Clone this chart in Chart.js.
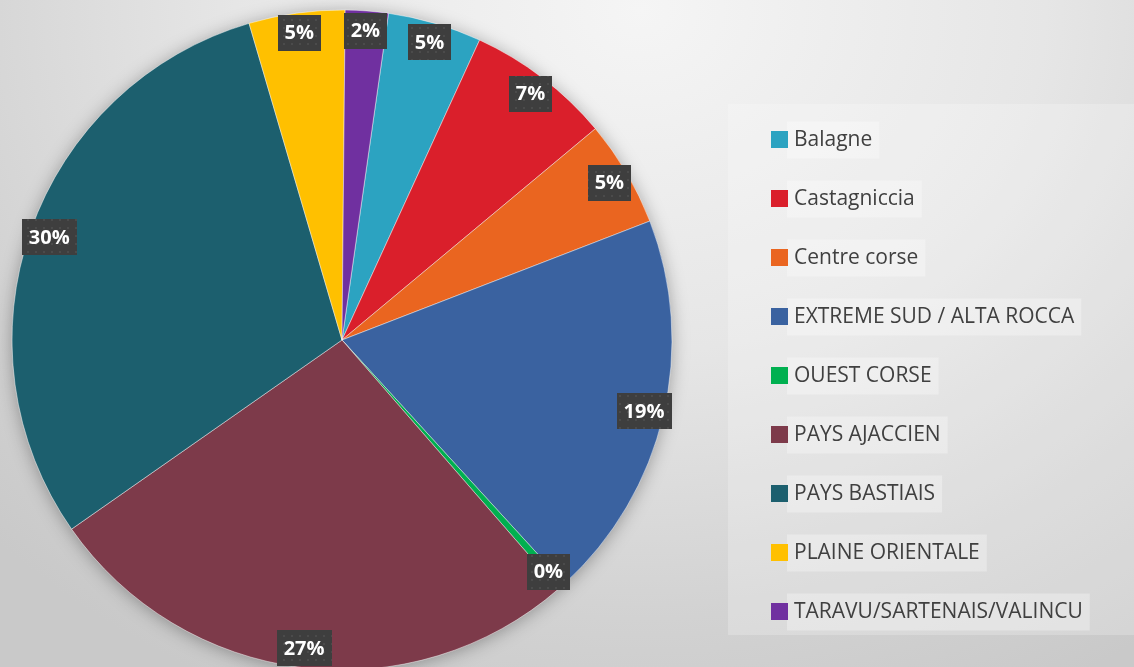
<!DOCTYPE html>
<html>
<head>
<meta charset="utf-8">
<script src="https://cdn.jsdelivr.net/npm/chart.js@4.4.1/dist/chart.umd.min.js"></script>
<style>
  html, body { margin: 0; padding: 0; width: 1134px; height: 667px; overflow: hidden; }
  body { background: radial-gradient(ellipse 900px 760px at 640px 10px, #f5f5f5 0%, #e6e6e6 45%, #d2d2d2 80%, #c9c9c9 100%); }
  #wrap { position: absolute; left: 0; top: 0; width: 1134px; height: 667px; }
</style>
</head>
<body>
<div id="wrap"><canvas id="c" width="1134" height="667"></canvas></div>
<script>
const categories = ["Balagne", "Castagniccia", "Centre corse", "EXTREME SUD / ALTA ROCCA", "OUEST CORSE", "PAYS AJACCIEN", "PAYS BASTIAIS", "PLAINE ORIENTALE", "TARAVU/SARTENAIS/VALINCU"];
const shares = [4.6, 7.1, 5.2, 19.1, 0.4, 26.7, 30.2, 4.7, 2.1];
const colors = ["#2CA3C1", "#DA1F2B", "#EA6520", "#3A62A0", "#00B050", "#7D3A4A", "#1C5F6E", "#FFC000", "#7030A0"];

// label pattern
function makePattern(ctx) {
  const p = document.createElement('canvas');
  p.width = 8; p.height = 8;
  const pc = p.getContext('2d');
  pc.fillStyle = '#3e3e3e';
  pc.fillRect(0, 0, 8, 8);
  pc.fillStyle = '#4b4b4b';
  pc.fillRect(3, 3, 2, 2);
  return ctx.createPattern(p, 'repeat');
}

const shadowPlugin = {
  id: 'pieShadow',
  beforeDatasetsDraw(chart) {
    const meta = chart.getDatasetMeta(0);
    if (!meta.data.length) return;
    const a = meta.data[0];
    const ctx = chart.ctx;
    ctx.save();
    ctx.shadowColor = 'rgba(0,0,0,0.35)';
    ctx.shadowBlur = 18;
    ctx.shadowOffsetX = 0;
    ctx.shadowOffsetY = 2;
    ctx.fillStyle = '#888';
    ctx.beginPath();
    ctx.arc(a.x, a.y, a.outerRadius - 1, 0, Math.PI * 2);
    ctx.fill();
    ctx.restore();
  }
};

const labelPlugin = {
  id: 'pctLabels',
  afterDatasetsDraw(chart) {
    const ctx = chart.ctx;
    const meta = chart.getDatasetMeta(0);
    const data = chart.data.datasets[0].data;
    const total = data.reduce((s, v) => s + v, 0);
    const pat = makePattern(ctx);
    ctx.save();
    ctx.font = 'bold 20px "Open Sans"';
    ctx.textAlign = 'center';
    ctx.textBaseline = 'middle';
    meta.data.forEach((arc, i) => {
      const mid = (arc.startAngle + arc.endAngle) / 2;
      const r = arc.outerRadius * 0.94;
      const x = arc.x + Math.cos(mid) * r;
      const y = arc.y + Math.sin(mid) * r;
      const txt = Math.round(data[i] / total * 100) + '%';
      const w = ctx.measureText(txt).width + 14;
      const h = 36;
      ctx.fillStyle = pat;
      ctx.fillRect(Math.round(x - w / 2), Math.round(y - h / 2), Math.round(w), h);
      ctx.fillStyle = '#ffffff';
      ctx.fillText(txt, x, y + 1);
    });
    ctx.restore();
  }
};

const legendPlugin = {
  id: 'sideLegend',
  afterDraw(chart) {
    const ctx = chart.ctx;
    ctx.save();
    // panel
    ctx.fillStyle = 'rgba(255,255,255,0.22)';
    ctx.fillRect(728, 104, 406, 531);
    ctx.font = '21px "Open Sans"';
    ctx.textBaseline = 'middle';
    ctx.textAlign = 'left';
    chart.data.labels.forEach((lab, i) => {
      const cy = 139.5 + i * 59;
      const tw = ctx.measureText(lab).width;
      ctx.fillStyle = 'rgba(255,255,255,0.3)';
      ctx.fillRect(787, cy - 18, tw + 14, 37);
      ctx.fillStyle = chart.data.datasets[0].backgroundColor[i];
      ctx.fillRect(771, cy - 8.5, 17, 17);
      ctx.fillStyle = '#404040';
      ctx.fillText(lab, 794, cy + 1);
    });
    ctx.restore();
  }
};

new Chart(document.getElementById('c'), {
  type: 'pie',
  data: {
    labels: categories,
    datasets: [{
      data: shares,
      backgroundColor: colors,
      borderColor: 'rgba(255,255,255,0.45)',
      borderWidth: 1,
      radius: 330
    }]
  },
  options: {
    responsive: false,
    animation: false,
    rotation: 8.1,
    layout: { padding: { left: 12, right: 462, top: 13, bottom: 0 } },
    plugins: { legend: { display: false }, tooltip: { enabled: false } }
  },
  plugins: [shadowPlugin, labelPlugin, legendPlugin]
});
</script>
</body>
</html>
